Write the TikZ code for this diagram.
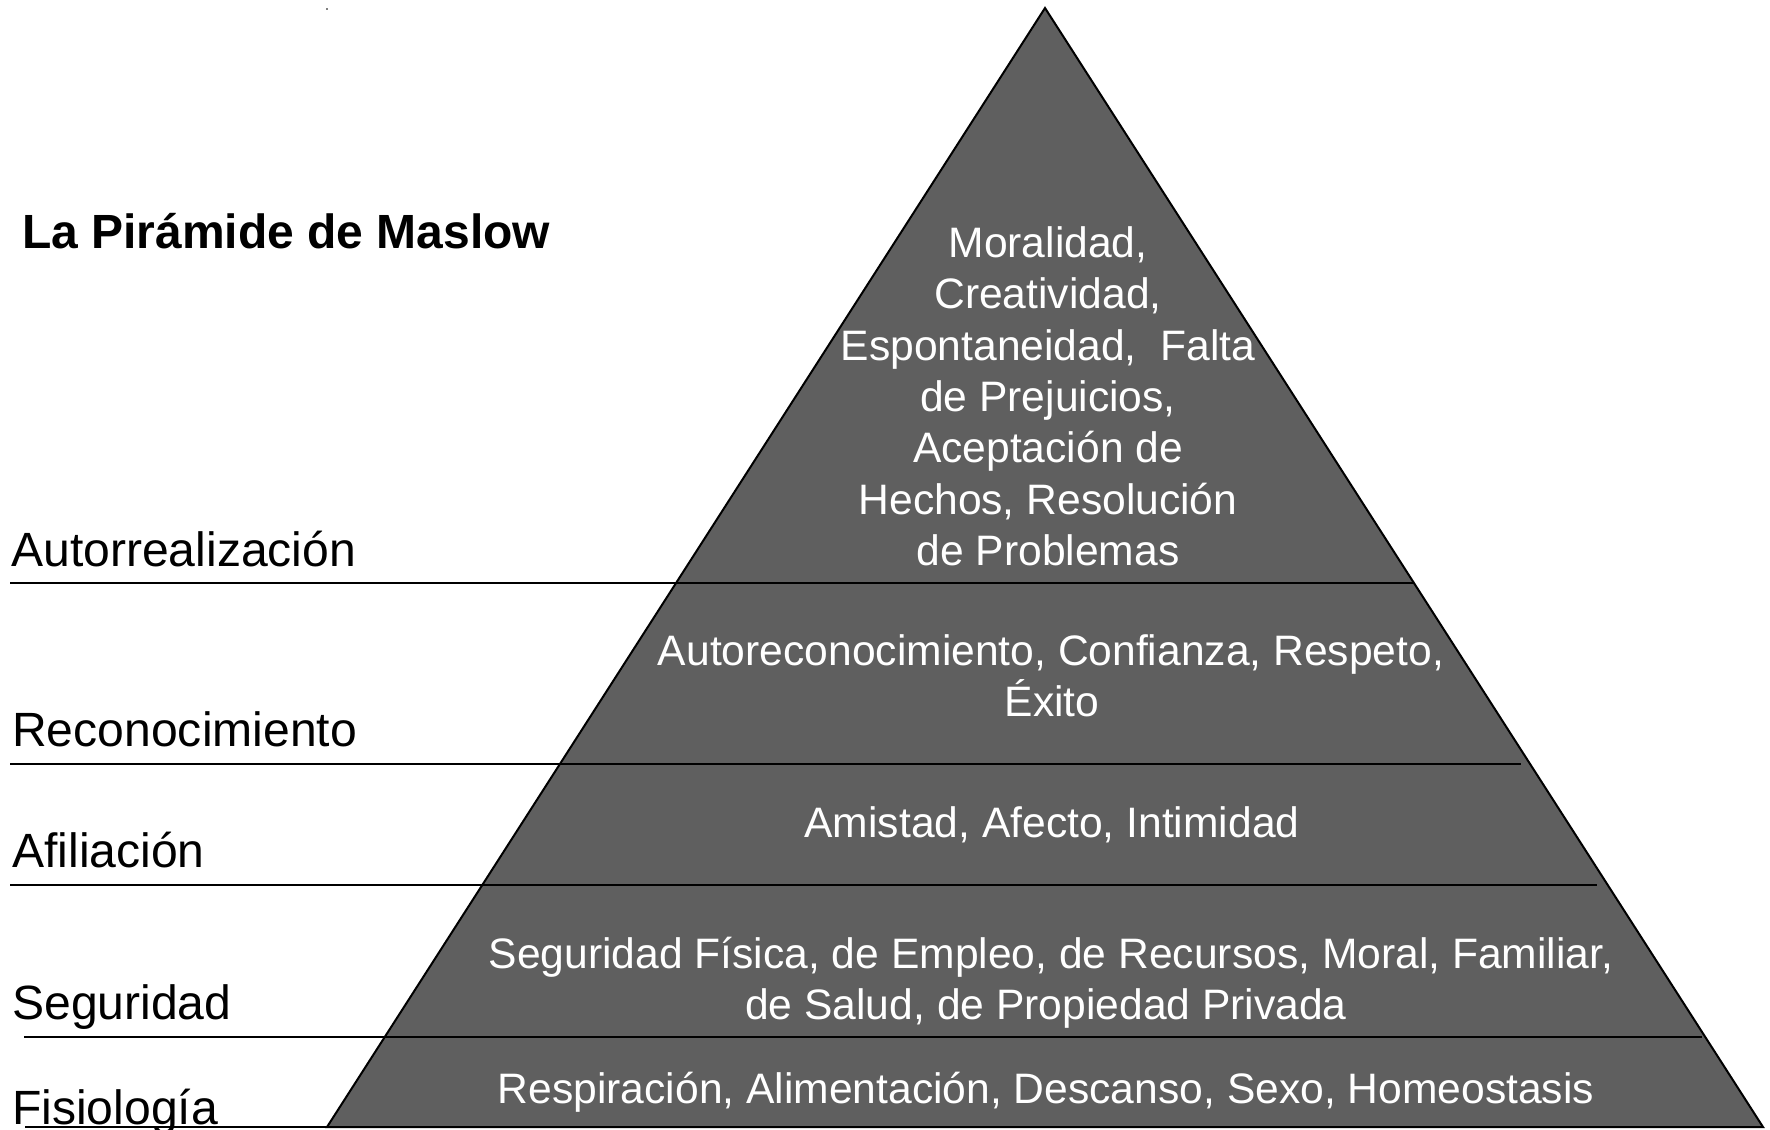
\documentclass[tikz,border=0pt]{standalone}
\usepackage{fontspec}
\setmainfont{Liberation Sans}
\definecolor{tierfill}{RGB}{95,95,95}
\begin{document}
\begin{tikzpicture}[x=1pt,y=-1pt,
  rule/.style={line width=2pt, black},
  pyr/.style={fill=tierfill, draw=black, line width=2pt, line join=miter},
  side/.style={font=\fontsize{48.1}{57}\selectfont, anchor=base west, inner sep=0pt},
  heading/.style={font=\bfseries\fontsize{48}{57}\selectfont, anchor=base west, inner sep=0pt},
  inlabel/.style={font=\fontsize{42.6}{51}\selectfont, text=white, anchor=base, inner sep=0pt}]
\useasboundingbox (0,0) rectangle (1770,1130);

% pyramid outline
\coordinate (apex) at (1045,8);
\coordinate (bl) at (327,1127);
\coordinate (br) at (1763,1127);
\filldraw[pyr] (apex) -- (br) -- (bl) -- cycle;

% tiny mark near the top
\fill[gray] (326,8) rectangle (328,10);

% level separators
\coordinate (s1l) at (10,583);  \coordinate (s1r) at (1413,583);
\coordinate (s2l) at (10,764);  \coordinate (s2r) at (1521,764);
\coordinate (s3l) at (10,885);  \coordinate (s3r) at (1597,885);
\coordinate (s4l) at (24,1037); \coordinate (s4r) at (1702,1037);
\coordinate (s5l) at (25,1127); \coordinate (s5r) at (1763,1127);
\draw[rule] (s1l) -- (s1r);
\draw[rule] (s2l) -- (s2r);
\draw[rule] (s3l) -- (s3r);
\draw[rule] (s4l) -- (s4r);
\draw[rule] (s5l) -- (s5r);

% title and level names
\node[heading] (title) at (22,248) {La Pirámide de Maslow};
\node[side] (autor) at (11,566) {Autorrealización};
\node[side] (recon) at (12,746) {Reconocimiento};
\node[side] (afil) at (12,867) {Afiliación};
\node[side] (segur) at (12,1019) {Seguridad};
\node[side] (fisio) at (12,1124) {Fisiología};

% needs within each level
\foreach \txt [count=\k from 0] in {Moralidad{,}, Creatividad{,},
    Espontaneidad{,}\ \ Falta, de Prejuicios{,}, Aceptación de,
    Hechos{,} Resolución, de Problemas}
  \node[inlabel] (top\k) at (1048,257.5+51.3*\k) {\txt};
\node[inlabel] (rec1) at (1051,665) {Autoreconocimiento, Confianza, Respeto,};
\node[inlabel] (rec2) at (1052,716) {Éxito};
\node[inlabel] (afi1) at (1052,837) {Amistad, Afecto, Intimidad};
\node[inlabel] (seg1) at (1051,968) {Seguridad Física, de Empleo, de Recursos, Moral, Familiar,};
\node[inlabel] (seg2) at (1046,1019) {de Salud, de Propiedad Privada};
\node[inlabel] (fis1) at (1046,1103) {Respiración, Alimentación, Descanso, Sexo, Homeostasis};
\end{tikzpicture}
\end{document}
